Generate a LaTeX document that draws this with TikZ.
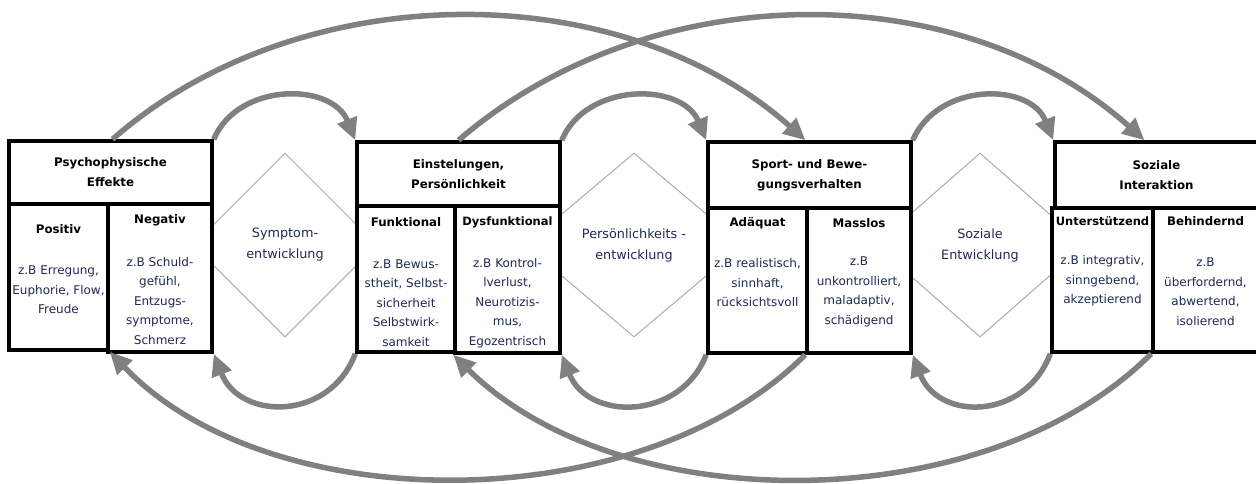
\documentclass[tikz,border=0pt]{standalone}
\usepackage{fontspec}
\setmainfont{DejaVu Sans}
\usetikzlibrary{arrows.meta,shapes.geometric}
\definecolor{arrgray}{HTML}{808080}
\definecolor{txtblue}{HTML}{1F2A55}
\definecolor{diagray}{HTML}{A3ACB8}
\begin{document}
\begin{tikzpicture}[x=1pt,y=-1pt,
  box/.style={draw=black,line width=3.5pt,fill=white,inner sep=0pt},
  ttl/.style={font=\fontsize{11.8}{20}\selectfont\bfseries,text=black,align=center,inner sep=0pt},
  ttlsmall/.style={ttl,font=\fontsize{11.5}{20}\selectfont\bfseries},
  body/.style={font=\fontsize{12}{19.5}\selectfont,text=txtblue,align=center,inner sep=0pt},
  dia/.style={diamond,draw=diagray,line width=1pt,font=\fontsize{12.8}{21}\selectfont,text=txtblue,align=center,inner sep=0pt},
  arr/.style={draw=arrgray,line width=5.5pt,-{Triangle[length=22pt,width=20pt]}}
]
\useasboundingbox (0,0) rectangle (1256,483);

% diamonds (drawn first, partly hidden by the boxes)
\node[dia,minimum width=184pt,minimum height=184pt] (d1) at (285,245) {Symptom-\\entwicklung};
\node[dia,minimum width=218pt,minimum height=184pt] (d2) at (634,245) {Persönlichkeits -\\entwicklung};
\node[dia,minimum width=210pt,minimum height=184pt] (d3) at (980,245) {Soziale\\Entwicklung};

% group 1
\node[box,minimum width=203pt,minimum height=63pt] (h1) at (110.5,172.5) {};
\node[box,minimum width=99pt,minimum height=146pt] (s1a) at (58.5,277) {};
\node[box,minimum width=104pt,minimum height=148pt] (s1b) at (160,278) {};
% group 2
\node[box,minimum width=203pt,minimum height=64pt] (h2) at (458.5,174) {};
\node[box,minimum width=98pt,minimum height=146pt] (s2a) at (406,279) {};
\node[box,minimum width=105pt,minimum height=147pt] (s2b) at (507.5,279.5) {};
% group 3
\node[box,minimum width=203pt,minimum height=66pt] (h3) at (809.5,175) {};
\node[box,minimum width=99pt,minimum height=145pt] (s3a) at (757.5,280.5) {};
\node[box,minimum width=104pt,minimum height=145pt] (s3b) at (859,280.5) {};
% group 4
\node[box,minimum width=203pt,minimum height=66pt] (h4) at (1156.5,175) {};
\node[box,minimum width=101pt,minimum height=144pt] (s4a) at (1102.5,280) {};
\node[box,minimum width=105pt,minimum height=144pt] (s4b) at (1205.5,280) {};

% header texts
\node[ttl] (th1) at (h1.center) {Psychophysische\\Effekte};
\node[ttl] (th2) at (h2.center) {Einstelungen,\\Persönlichkeit};
\node[ttl] (th3) at (h3.center) {Sport- und Bewe-\\gungsverhalten};
\node[ttl] (th4) at (h4.center) {Soziale\\Interaktion};

% sub titles
\node[ttl] (t1a) at (58.5,229) {Positiv};
\node[ttl] (t1b) at (160,220) {Negativ};
\node[ttl] (t2a) at (406,222) {Funktional};
\node[ttlsmall] (t2b) at (507.5,222) {Dysfunktional};
\node[ttl] (t3a) at (757.5,223) {Adäquat};
\node[ttl] (t3b) at (859,223) {Masslos};
\node[ttlsmall] (t4a) at (1102.5,221) {Unterstützend};
\node[ttl] (t4b) at (1205.5,221) {Behindernd};

% body texts
\node[body] (b1a) at (58.5,290) {z.B Erregung,\\Euphorie, Flow,\\Freude};
\node[body] (b1b) at (160,301) {z.B Schuld-\\gefühl,\\Entzugs-\\symptome,\\Schmerz};
\node[body] (b2a) at (406,303) {z.B Bewus-\\stheit, Selbst-\\sicherheit\\Selbstwirk-\\samkeit};
\node[body] (b2b) at (507.5,303) {z.B Kontrol-\\lverlust,\\Neurotizis-\\mus,\\Egozentrisch};
\node[body] (b3a) at (757.5,283) {z.B realistisch,\\sinnhaft,\\rücksichtsvoll};
\node[body] (b3b) at (859,292) {z.B\\unkontrolliert,\\maladaptiv,\\schädigend};
\node[body] (b4a) at (1102.5,281) {z.B integrativ,\\sinngebend,\\akzeptierend};
\node[body] (b4b) at (1205.5,291.5) {z.B\\überfordernd,\\abwertend,\\isolierend};

% small top arcs
\draw[arr] (h1.north east) .. controls (238,82) and (332,82) .. (h2.north west);
\draw[arr] (h2.north east) .. controls (586,82) and (682,82) .. (h3.north west);
\draw[arr] (h3.north east) .. controls (938,82) and (1030,82) .. (h4.north west);
% big top arcs
\draw[arr] ([xshift=2pt]h1.north) .. controls (300,-25) and (620,-25) .. ([xshift=-4pt]h3.north);
\draw[arr] (h2.north) .. controls (650,-25) and (960,-25) .. ([xshift=-12pt]h4.north);
% small bottom arcs
\draw[arr] (s2a.south west) .. controls (330,421) and (240,421) .. (s1b.south east);
\draw[arr] (s3a.south west) .. controls (680,421) and (588,421) .. (s2b.south east);
\draw[arr] (s4a.south west) .. controls (1025,421) and (938,421) .. (s3b.south east);
% big bottom arcs
\draw[arr] (s3b.south west) .. controls (640,520) and (270,520) .. (s1a.south east);
\draw[arr] (s4b.south west) .. controls (985,520) and (620,520) .. (s2b.south west);
\end{tikzpicture}
\end{document}
